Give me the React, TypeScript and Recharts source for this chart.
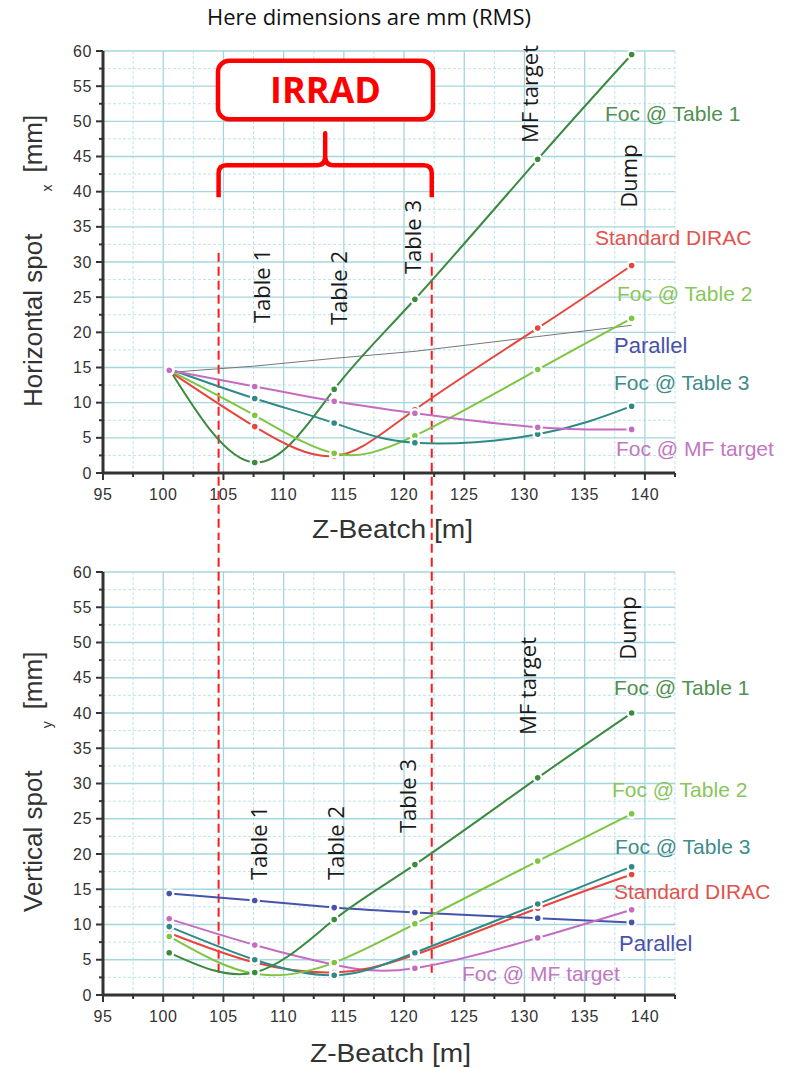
import React from 'react';
import { LineChart, Line, XAxis, YAxis, CartesianGrid, ReferenceLine, ReferenceArea } from 'recharts';

// ---------- data ----------
const zPositions = [100.5, 107.6, 114.2, 120.9, 131.1, 138.9];

const hFocTable1 = [14.8, 1.5, 11.9, 24.7, 44.6, 59.5];
const hStandardDirac = [14.5, 6.6, 2.4, 9.0, 20.6, 29.5];
const hFocTable2 = [14.6, 8.2, 2.8, 5.3, 14.7, 22.0];
const hFocTable3 = [14.8, 10.6, 7.1, 4.3, 5.5, 9.5];
const hFocMfTarget = [14.6, 12.3, 10.2, 8.5, 6.5, 6.2];
const hParallel = [14.3, 15.2, 16.3, 17.3, 19.4, 21.0];

const vFocTable1 = [6.0, 3.2, 10.7, 18.5, 30.8, 40.0];
const vFocTable2 = [8.3, 3.0, 4.6, 10.1, 19.0, 25.7];
const vFocTable3 = [9.7, 5.0, 2.8, 6.0, 12.9, 18.2];
const vStandardDirac = [8.8, 4.6, 3.2, 5.7, 12.3, 17.1];
const vFocMfTarget = [10.8, 7.1, 4.3, 3.8, 8.1, 12.1];
const vParallel = [14.4, 13.4, 12.4, 11.7, 10.9, 10.3];

const xTicks = [95, 97.5, 100, 102.5, 105, 107.5, 110, 112.5, 115, 117.5, 120, 122.5, 125, 127.5, 130, 132.5, 135, 137.5, 140, 142.5];
const xMajor = [95, 100, 105, 110, 115, 120, 125, 130, 135, 140];
const xMinor = [97.5, 102.5, 107.5, 112.5, 117.5, 122.5, 127.5, 132.5, 137.5, 142.5];
const yTicks = [0, 2.5, 5, 7.5, 10, 12.5, 15, 17.5, 20, 22.5, 25, 27.5, 30, 32.5, 35, 37.5, 40, 42.5, 45, 47.5, 50, 52.5, 55, 57.5, 60];
const yMajor = [5, 10, 15, 20, 25, 30, 35, 40, 45, 50, 55, 60];
const yMinor = [2.5, 7.5, 12.5, 17.5, 22.5, 27.5, 32.5, 37.5, 42.5, 47.5, 52.5, 57.5];

const irradStart = 104.6;
const irradEnd = 122.3;

// ---------- styles ----------
const C = {
  darkGreen: '#3b8a3f',
  red: '#e8453c',
  lightGreen: '#7dc542',
  teal: '#2f8a87',
  pink: '#c56cc2',
  blue: '#4752ad',
  gray: '#777777',
};
const T = {
  darkGreen: '#4f9150',
  red: '#e2524d',
  lightGreen: '#88c65a',
  teal: '#3f8c8a',
  pink: '#c277c0',
  blue: '#4a52a8',
};

const hData = zPositions.map((z, i) => ({
  z,
  ft1: hFocTable1[i],
  dirac: hStandardDirac[i],
  ft2: hFocTable2[i],
  ft3: hFocTable3[i],
  mf: hFocMfTarget[i],
  par: hParallel[i],
}));
const vData = zPositions.map((z, i) => ({
  z,
  ft1: vFocTable1[i],
  dirac: vStandardDirac[i],
  ft2: vFocTable2[i],
  ft3: vFocTable3[i],
  mf: vFocMfTarget[i],
  par: vParallel[i],
}));

const tickFont = { fontFamily: '"Liberation Sans", Arial, sans-serif', fontSize: 16, fill: '#333', letterSpacing: 0.6 };

const XTick = (props: any) => {
  const { x, y, payload } = props;
  const v = payload.value;
  const major = xMajor.includes(v);
  return (
    <g>
      <line x1={x} x2={x} y1={y} y2={y + (major ? 7 : 4)} stroke="#333" strokeWidth={2} />
      {major && (
        <text x={x} y={y + 27} textAnchor="middle" {...tickFont}>
          {v}
        </text>
      )}
    </g>
  );
};

const YTick = (props: any) => {
  const { x, y, payload } = props;
  const v = payload.value;
  const major = v === 0 || yMajor.includes(v);
  return (
    <g>
      <line x1={x - (major ? 7 : 4)} x2={x} y1={y} y2={y} stroke="#333" strokeWidth={2} />
      {major && (
        <text x={x - 11} y={y + 5.5} textAnchor="end" {...tickFont}>
          {v}
        </text>
      )}
    </g>
  );
};

const IrradBox = (props: any) => {
  const { x, y, width, height } = props;
  return (
    <g>
      <rect x={x} y={y} width={width} height={height} rx={11} ry={11} fill="#fff" stroke="#ff0000" strokeWidth={4.5} />
      <text
        x={x + width / 2}
        y={y + height / 2 + 13}
        textAnchor="middle"
        fill="#ff0000"
        fontFamily='"Open Sans", sans-serif'
        fontWeight={700}
        fontSize={36}
      >
        IRRAD
      </text>
    </g>
  );
};

const Brace = (props: any) => {
  const { x, y, width, height } = props;
  const cx = x + width / 2;
  const hy = y + height * 0.5;
  const r = 8;
  const d = `M ${x} ${y + height} L ${x} ${hy + r} Q ${x} ${hy} ${x + r} ${hy} L ${cx - 8} ${hy} Q ${cx} ${hy} ${cx} ${hy - 9} L ${cx} ${y} L ${cx} ${hy - 9} Q ${cx} ${hy} ${cx + 8} ${hy} L ${x + width - r} ${hy} Q ${x + width} ${hy} ${x + width} ${hy + r} L ${x + width} ${y + height}`;
  return <path d={d} fill="none" stroke="#ff0000" strokeWidth={4.5} strokeLinejoin="round" />;
};

const dotStyle = (color: string) => ({ r: 4, fill: color, stroke: '#ffffff', strokeWidth: 2.4 });

function gridAndAxes() {
  return [
    <CartesianGrid
      key="gmin"
      stroke="#bfe3ea"
      strokeWidth={1}
      strokeDasharray="3 2"
      horizontalValues={yMinor}
      verticalValues={xMinor}
    />,
    <CartesianGrid
      key="gmaj"
      stroke="#a4d6df"
      strokeWidth={1.3}
      horizontalValues={yMajor}
      verticalValues={xMajor.filter((v) => v > 95)}
    />,
  ];
}

const labelText = (x: number, y: number, text: string, color: string, size = 21) => (
  <text x={x} y={y + size * 0.36} fill={color} fontFamily='"Liberation Sans", Arial, sans-serif' fontSize={size}>
    {text}
  </text>
);

const rotLabel = (cx: number, cy: number, text: string) => (
  <text
    x={cx}
    y={cy}
    transform={`rotate(-90 ${cx} ${cy})`}
    textAnchor="middle"
    dominantBaseline="central"
    fill="#1a1a1a"
    fontFamily='"Open Sans", sans-serif'
    fontSize={22}
  >
    {text}
  </text>
);

export default function App() {
  const axisLine = { stroke: '#333', strokeWidth: 3 };
  return (
    <div style={{ position: 'absolute', left: 0, top: 0, width: 790, height: 1068, background: '#fff', overflow: 'hidden' }}>
      {/* Top chart: horizontal spot */}
      <div style={{ position: 'absolute', left: 0, top: 0 }}>
        <LineChart width={790} height={540} data={hData} margin={{ top: 51, right: 115, bottom: 27, left: 43 }}>
          {gridAndAxes()}
          <XAxis
            dataKey="z"
            type="number"
            domain={[95, 142.5]}
            ticks={xTicks}
            interval={0}
            height={40}
            tickSize={0}
            tickMargin={0}
            tick={<XTick />}
            axisLine={axisLine}
            allowDataOverflow
          />
          <YAxis
            type="number"
            domain={[0, 60]}
            ticks={yTicks}
            interval={0}
            width={60}
            tickSize={0}
            tickMargin={0}
            tick={<YTick />}
            axisLine={axisLine}
          />
          <ReferenceArea x1={irradStart - 0.05} x2={irradEnd + 0.1} y1={50.3} y2={58.6} shape={<IrradBox />} ifOverflow="visible" />
          <ReferenceArea x1={irradStart} x2={irradEnd} y1={39.2} y2={48.3} shape={<Brace />} ifOverflow="visible" />
          <ReferenceLine
            segment={[{ x: irradStart, y: 31.3 }, { x: irradStart, y: -10 }]}
            stroke="#ff1a1a"
            strokeWidth={2}
            strokeDasharray="9 5"
            ifOverflow="visible"
          />
          <ReferenceLine
            segment={[{ x: irradEnd, y: 31.3 }, { x: irradEnd, y: -10 }]}
            stroke="#ff1a1a"
            strokeWidth={2}
            strokeDasharray="9 5"
            ifOverflow="visible"
          />
          <Line dataKey="par" type="linear" stroke={C.gray} strokeWidth={1} dot={false} isAnimationActive={false} />
          <Line dataKey="ft1" type="natural" stroke={C.darkGreen} strokeWidth={2} dot={dotStyle(C.darkGreen)} isAnimationActive={false} />
          <Line dataKey="dirac" type="natural" stroke={C.red} strokeWidth={2} dot={dotStyle(C.red)} isAnimationActive={false} />
          <Line dataKey="ft2" type="natural" stroke={C.lightGreen} strokeWidth={2} dot={dotStyle(C.lightGreen)} isAnimationActive={false} />
          <Line dataKey="ft3" type="natural" stroke={C.teal} strokeWidth={2} dot={dotStyle(C.teal)} isAnimationActive={false} />
          <Line dataKey="mf" type="natural" stroke={C.pink} strokeWidth={2} dot={dotStyle(C.pink)} isAnimationActive={false} />
        </LineChart>
      </div>

      {/* Bottom chart: vertical spot */}
      <div style={{ position: 'absolute', left: 0, top: 540 }}>
        <LineChart width={790} height={528} data={vData} margin={{ top: 32, right: 115, bottom: 33, left: 43 }}>
          {gridAndAxes()}
          <XAxis
            dataKey="z"
            type="number"
            domain={[95, 142.5]}
            ticks={xTicks}
            interval={0}
            height={40}
            tickSize={0}
            tickMargin={0}
            tick={<XTick />}
            axisLine={axisLine}
            allowDataOverflow
          />
          <YAxis
            type="number"
            domain={[0, 60]}
            ticks={yTicks}
            interval={0}
            width={60}
            tickSize={0}
            tickMargin={0}
            tick={<YTick />}
            axisLine={axisLine}
          />
          <ReferenceLine
            segment={[{ x: irradStart, y: 66 }, { x: irradStart, y: 3.1 }]}
            stroke="#ff1a1a"
            strokeWidth={2}
            strokeDasharray="9 5"
            ifOverflow="visible"
          />
          <ReferenceLine
            segment={[{ x: irradEnd, y: 66 }, { x: irradEnd, y: 3.1 }]}
            stroke="#ff1a1a"
            strokeWidth={2}
            strokeDasharray="9 5"
            ifOverflow="visible"
          />
          <Line dataKey="par" type="natural" stroke={C.blue} strokeWidth={2} dot={dotStyle(C.blue)} isAnimationActive={false} />
          <Line dataKey="mf" type="natural" stroke={C.pink} strokeWidth={2} dot={dotStyle(C.pink)} isAnimationActive={false} />
          <Line dataKey="dirac" type="natural" stroke={C.red} strokeWidth={2} dot={dotStyle(C.red)} isAnimationActive={false} />
          <Line dataKey="ft3" type="natural" stroke={C.teal} strokeWidth={2} dot={dotStyle(C.teal)} isAnimationActive={false} />
          <Line dataKey="ft2" type="natural" stroke={C.lightGreen} strokeWidth={2} dot={dotStyle(C.lightGreen)} isAnimationActive={false} />
          <Line dataKey="ft1" type="natural" stroke={C.darkGreen} strokeWidth={2} dot={dotStyle(C.darkGreen)} isAnimationActive={false} />
        </LineChart>
      </div>

      {/* Text annotations */}
      <svg width={790} height={1068} style={{ position: 'absolute', left: 0, top: 0, pointerEvents: 'none' }}>
        <text x={207} y={25} fill="#111" fontFamily='"Open Sans", sans-serif' fontSize={22}>
          Here dimensions are mm (RMS)
        </text>

        {/* axis titles */}
        <text
          x={42}
          y={407}
          transform="rotate(-90 42 407)"
          fill="#333"
          fontFamily='"Liberation Sans", Arial, sans-serif'
          fontSize={26}
        >
          Horizontal spot
          <tspan dx={42} dy={10} fontSize={14}>x</tspan>
          <tspan dx={12} dy={-10}>[mm]</tspan>
        </text>
        <text
          x={42}
          y={912}
          transform="rotate(-90 42 912)"
          fill="#333"
          fontFamily='"Liberation Sans", Arial, sans-serif'
          fontSize={26}
        >
          Vertical spot
          <tspan dx={42} dy={10} fontSize={14}>y</tspan>
          <tspan dx={12} dy={-10}>[mm]</tspan>
        </text>
        <text x={312} y={538} textLength={161} lengthAdjust="spacingAndGlyphs" fill="#333" fontFamily='"Liberation Sans", Arial, sans-serif' fontSize={25}>
          Z-Beatch [m]
        </text>
        <text x={310} y={1062} textLength={161} lengthAdjust="spacingAndGlyphs" fill="#333" fontFamily='"Liberation Sans", Arial, sans-serif' fontSize={25}>
          Z-Beatch [m]
        </text>

        {/* location labels */}
        {rotLabel(261, 286, 'Table 1')}
        {rotLabel(338, 288, 'Table 2')}
        {rotLabel(412, 237, 'Table 3')}
        {rotLabel(529, 94, 'MF target')}
        {rotLabel(628, 176, 'Dump')}
        {rotLabel(258, 843, 'Table 1')}
        {rotLabel(335, 843, 'Table 2')}
        {rotLabel(407, 796, 'Table 3')}
        {rotLabel(527, 686, 'MF target')}
        {rotLabel(627, 628, 'Dump')}

        {/* series labels top */}
        {labelText(605, 113, 'Foc @ Table 1', T.darkGreen)}
        {labelText(595, 237, 'Standard DIRAC', T.red)}
        {labelText(617, 293, 'Foc @ Table 2', T.lightGreen)}
        {labelText(614, 345, 'Parallel', T.blue, 22)}
        {labelText(614, 382, 'Foc @ Table 3', T.teal)}
        {labelText(616, 448, 'Foc @ MF target', T.pink)}

        {/* series labels bottom */}
        {labelText(614, 687, 'Foc @ Table 1', T.darkGreen)}
        {labelText(612, 789, 'Foc @ Table 2', T.lightGreen)}
        {labelText(615, 846, 'Foc @ Table 3', T.teal)}
        {labelText(614, 891, 'Standard DIRAC', T.red)}
        {labelText(619, 943, 'Parallel', T.blue, 22)}
        {labelText(462, 973, 'Foc @ MF target', T.pink)}
      </svg>
    </div>
  );
}
